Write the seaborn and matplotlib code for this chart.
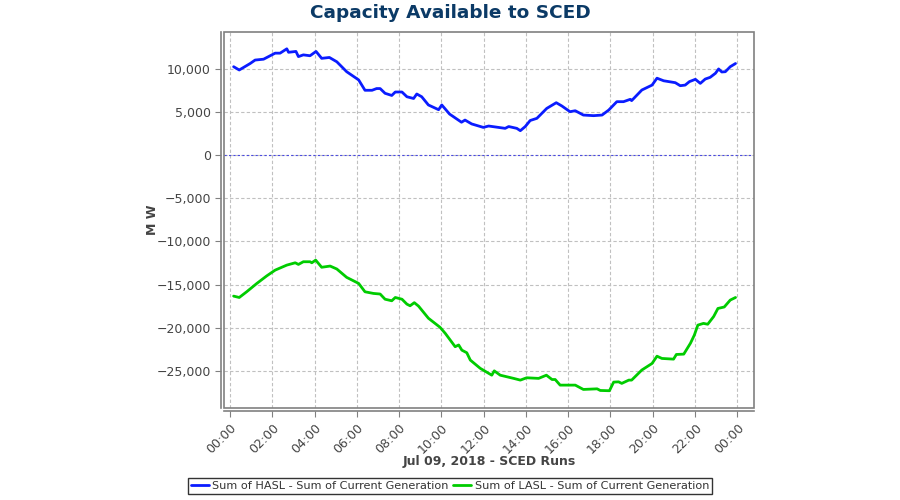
"""Capacity Available to SCED - HASL / LASL headroom over one operating day."""

import matplotlib

matplotlib.use("Agg")

import matplotlib.dates as mdates
import matplotlib.pyplot as plt
import matplotlib.ticker as mticker
import pandas as pd
import seaborn as sns
from matplotlib.patches import Rectangle

DAY = "2018-07-09"

# Sum of HASL - Sum of Current Generation (MW)
hasl_times = [
    "00:10", "00:26", "00:57", "01:11", "01:35", "02:08", "02:22", "02:41", "02:46", "03:07",
    "03:14", "03:28", "03:47", "04:04", "04:20", "04:42", "05:03", "05:31", "06:05", "06:23",
    "06:43", "06:56", "07:06", "07:20", "07:39", "07:49", "08:08", "08:22", "08:41", "08:50",
    "09:04", "09:23", "09:52", "10:01", "10:23", "10:57", "11:07", "11:26", "11:59", "12:14",
    "13:01", "13:11", "13:34", "13:44", "13:58", "14:12", "14:31", "14:59", "15:26", "15:42",
    "16:05", "16:20", "16:43", "17:12", "17:36", "17:55", "18:18", "18:37", "18:56", "19:00",
    "19:29", "19:58", "20:12", "20:31", "21:04", "21:18", "21:32", "21:44", "22:01", "22:15",
    "22:29", "22:43", "22:58", "23:07", "23:16", "23:26", "23:40", "23:55",
]
hasl_mw = [
    10230, 9850, 10600, 11000, 11100, 11800, 11800, 12300, 11900, 12000,
    11400, 11600, 11500, 12000, 11200, 11300, 10800, 9650, 8700, 7500,
    7500, 7700, 7700, 7150, 6900, 7300, 7300, 6750, 6550, 7070,
    6750, 5800, 5250, 5800, 4750, 3800, 4050, 3600, 3200, 3360,
    3090, 3300, 3090, 2820, 3300, 4000, 4250, 5400, 6060, 5680,
    5020, 5130, 4630, 4560, 4630, 5210, 6180, 6180, 6450, 6300,
    7530, 8100, 8900, 8600, 8380, 8030, 8100, 8500, 8770, 8300,
    8800, 9000, 9470, 9970, 9620, 9650, 10230, 10600,
]

# Sum of LASL - Sum of Current Generation (MW)
lasl_times = [
    "00:10", "00:26", "00:47", "01:16", "01:44", "02:08", "02:41", "03:05", "03:14", "03:28",
    "03:47", "03:52", "04:03", "04:20", "04:44", "05:03", "05:31", "06:05", "06:23", "06:47",
    "07:06", "07:20", "07:39", "07:49", "08:08", "08:22", "08:31", "08:43", "08:55", "09:23",
    "09:56", "10:11", "10:39", "10:49", "10:58", "11:12", "11:22", "11:50", "12:23", "12:30",
    "12:47", "13:25", "13:44", "14:02", "14:36", "14:58", "15:14", "15:23", "15:37", "16:20",
    "16:43", "17:22", "17:31", "17:57", "18:09", "18:23", "18:32", "18:52", "19:00", "19:29",
    "19:58", "20:12", "20:26", "20:59", "21:07", "21:28", "21:47", "21:58", "22:08", "22:24",
    "22:36", "22:53", "23:05", "23:23", "23:40", "23:55",
]
lasl_mw = [
    -16340, -16500, -15840, -14870, -14000, -13330, -12750, -12480, -12670, -12360,
    -12360, -12480, -12170, -13000, -12860, -13200, -14170, -14870, -15840, -16030,
    -16100, -16700, -16880, -16500, -16700, -17270, -17460, -17100, -17500, -18900,
    -19950, -20660, -22200, -22000, -22600, -22900, -23750, -24700, -25500, -25000,
    -25500, -25870, -26070, -25800, -25870, -25500, -26000, -26000, -26650, -26650,
    -27150, -27080, -27270, -27300, -26300, -26270, -26450, -26070, -26070, -24900,
    -24140, -23300, -23560, -23640, -23100, -23060, -21800, -20860, -19700, -19500,
    -19600, -18700, -17770, -17600, -16800, -16500,
]

series_names = [
    "Sum of HASL - Sum of Current Generation",
    "Sum of LASL - Sum of Current Generation",
]
series_colors = ["#0a1cff", "#00cc00"]

frame = pd.concat(
    [
        pd.DataFrame({"time": hasl_times, "mw": hasl_mw, "series": series_names[0]}),
        pd.DataFrame({"time": lasl_times, "mw": lasl_mw, "series": series_names[1]}),
    ],
    ignore_index=True,
)
frame["time"] = pd.to_datetime(DAY + " " + frame["time"])

sns.set_theme(style="white")
plt.rcParams["font.family"] = ["DejaVu Sans"]

fig = plt.figure(figsize=(9, 5), dpi=100)
ax = fig.add_axes([0.249, 0.184, 0.589, 0.752])

sns.lineplot(
    data=frame,
    x="time",
    y="mw",
    hue="series",
    palette=dict(zip(series_names, series_colors)),
    linewidth=2,
    legend=False,
    ax=ax,
)
ax.axhline(0, color="#4a4ae0", linewidth=0.8, linestyle=(0, (2, 2)), zorder=1)

start = pd.Timestamp(DAY)
ax.set_xlim(start - pd.Timedelta(minutes=17), start + pd.Timedelta(hours=24, minutes=48))
ax.set_ylim(-29300, 14250)

ax.xaxis.set_major_locator(mdates.HourLocator(byhour=range(0, 24, 2)))
ax.xaxis.set_major_formatter(mdates.DateFormatter("%H:%M"))
ax.yaxis.set_major_locator(mticker.MultipleLocator(5000))
ax.yaxis.set_major_formatter(mticker.StrMethodFormatter("{x:,.0f}"))

ax.grid(True, color="#c0c0c0", linestyle=(0, (3, 2)), linewidth=0.8)
ax.tick_params(axis="both", labelsize=9, labelcolor="#444444", color="#808080",
               length=4, width=0.8, direction="out", bottom=True, left=True)
ax.tick_params(axis="x", labelrotation=45)

for side in ["top", "right"]:
    ax.spines[side].set_visible(False)
for side in ["left", "bottom"]:
    ax.spines[side].set_color("#808080")
    ax.spines[side].set_linewidth(1.2)
    ax.spines[side].set_position(("outward", 2))
ax.add_patch(Rectangle((0, 0), 1, 1, transform=ax.transAxes, fill=False,
                       edgecolor="#808080", linewidth=1.2, clip_on=False, zorder=5))

ax.set_xlabel("Jul 09, 2018 - SCED Runs", fontsize=9, fontweight="bold",
              color="#444444", labelpad=-1)
ax.set_ylabel("M W", fontsize=9, fontweight="bold", color="#444444", labelpad=-2)
fig.suptitle("Capacity Available to SCED", x=0.5, y=0.992, fontsize=13.3,
             fontweight="bold", color="#0b3a66")

handles = [plt.Line2D([], [], color=c, linewidth=2) for c in series_colors]
legend = fig.legend(handles, series_names, loc="center", bbox_to_anchor=(0.5, 0.028),
                    ncol=2, fontsize=8.1, frameon=True, fancybox=False,
                    handlelength=1.6, handletextpad=0.3, columnspacing=0.4,
                    borderpad=0.25, borderaxespad=0)
legend.get_frame().set_edgecolor("black")
legend.get_frame().set_linewidth(1)
for text in legend.get_texts():
    text.set_color("#333333")

fig.canvas.draw()
for label in ax.get_xticklabels():
    label.set_horizontalalignment("right")
    label.set_rotation_mode("anchor")

fig.savefig("out.png", dpi=100)
